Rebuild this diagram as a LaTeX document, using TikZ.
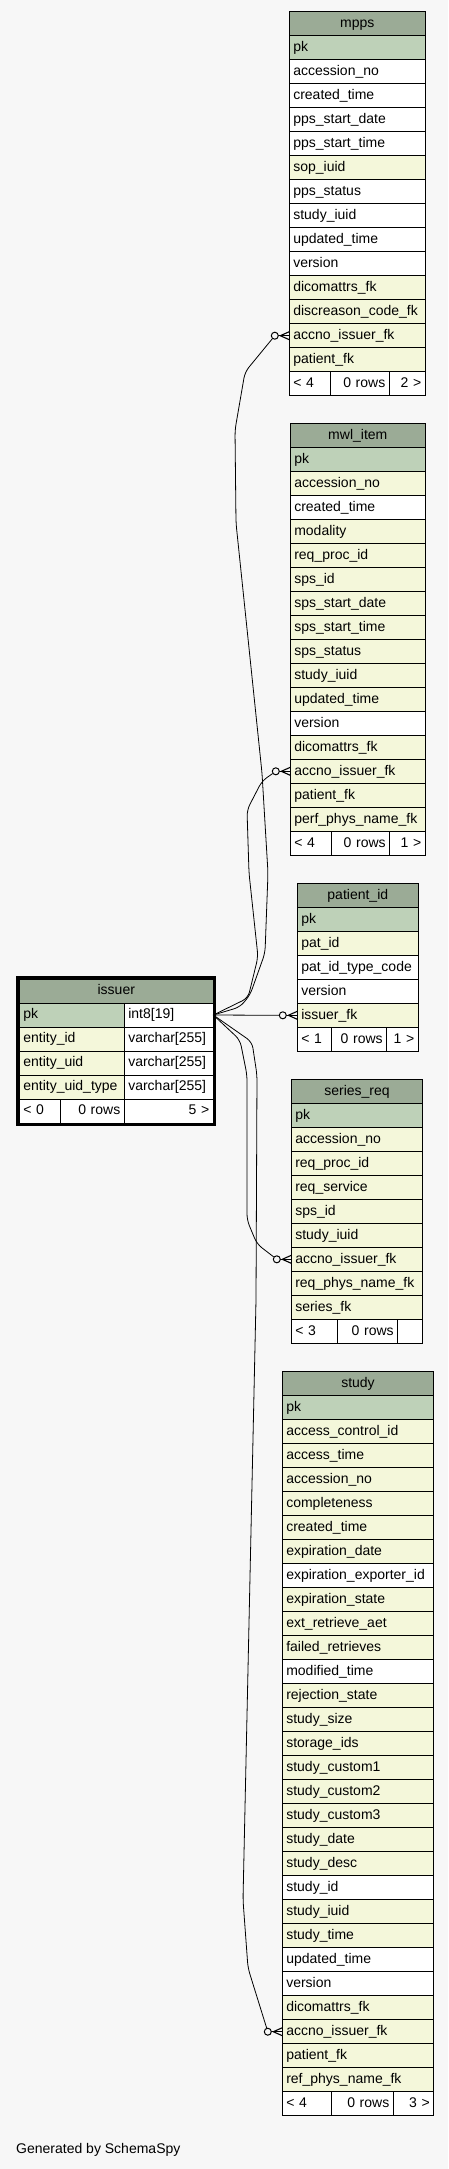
\documentclass[tikz,border=0pt]{standalone}
\usepackage{fontspec}
\setmainfont{Liberation Sans}
\usetikzlibrary{positioning}
\usetikzlibrary{fit}
\definecolor{bgcol}{HTML}{F7F7F7}
\definecolor{headcol}{HTML}{9BAB96}
\definecolor{pkcol}{HTML}{BED1B8}
\definecolor{idxcol}{HTML}{F4F7DA}
\newcommand{\tabfont}{\fontsize{14}{17}\selectfont}
\tikzstyle{cell}=[draw=black,line width=1pt,inner xsep=4pt,inner ysep=0pt,outer sep=0pt,
                  minimum height=24pt,text height=10.5pt,text depth=3pt,font=\tabfont]
\tikzstyle{row}=[cell,text width=#1,align=left]
\tikzstyle{head}=[cell,fill=headcol,text width=#1,align=center]
\tikzstyle{foot}=[cell,fill=white,text width=#1,align=left]
\tikzstyle{footr}=[cell,fill=white,text width=#1,align=right]
\tikzstyle{selframe}=[draw=black,line width=3pt,inner sep=1.5pt]
\tikzstyle{fkring}=[circle,draw=black,fill=bgcol,line width=1pt,minimum size=7pt,inner sep=0pt]
\tikzstyle{fkline}=[black,line width=0.8pt,line cap=round,rounded corners=6pt]

\begin{document}
\catcode`\_=12
\begin{tikzpicture}[x=1pt,y=-1pt]
  \fill[bgcol] (0,0) rectangle (448,2169);
  \useasboundingbox (0,0) rectangle (448,2169);

  % mpps
  \node[head=128pt, anchor=north west] (mpps-0) at (289.3,11.7) {mpps};
  \foreach \fld/\col [count=\i, remember=\i as \j (initially 0)] in
    {pk/pkcol, accession_no/white, created_time/white, pps_start_date/white,
     pps_start_time/white, sop_iuid/idxcol, pps_status/white, study_iuid/white,
     updated_time/white, version/white, dicomattrs_fk/idxcol,
     discreason_code_fk/idxcol, accno_issuer_fk/idxcol, patient_fk/idxcol}
    \node[row=128pt, fill=\col, below=0pt of mpps-\j] (mpps-\i) {\fld};
  \node[foot=33.4pt, anchor=north west] (mpps-f1) at (mpps-14.south west) {< 4};
  \node[footr=50.6pt, right=0pt of mpps-f1] (mpps-f2) {0 rows};
  \node[footr=28pt, right=0pt of mpps-f2] (mpps-f3) {2 >};

  % mwl_item
  \node[head=127pt, anchor=north west] (mwl-0) at (290.3,423.3) {mwl_item};
  \foreach \fld/\col [count=\i, remember=\i as \j (initially 0)] in
    {pk/pkcol, accession_no/idxcol, created_time/white, modality/idxcol,
     req_proc_id/idxcol, sps_id/idxcol, sps_start_date/idxcol, sps_start_time/idxcol,
     sps_status/idxcol, study_iuid/idxcol, updated_time/idxcol, version/white,
     dicomattrs_fk/idxcol, accno_issuer_fk/idxcol, patient_fk/idxcol,
     perf_phys_name_fk/idxcol}
    \node[row=127pt, fill=\col, below=0pt of mwl-\j] (mwl-\i) {\fld};
  \node[foot=33pt, anchor=north west] (mwl-f1) at (mwl-16.south west) {< 4};
  \node[footr=50.4pt, right=0pt of mwl-f1] (mwl-f2) {0 rows};
  \node[footr=27.6pt, right=0pt of mwl-f2] (mwl-f3) {1 >};

  % patient_id
  \node[head=113pt, anchor=north west] (pat-0) at (297.3,883.3) {patient_id};
  \foreach \fld/\col [count=\i, remember=\i as \j (initially 0)] in
    {pk/pkcol, pat_id/idxcol, pat_id_type_code/white, version/white, issuer_fk/idxcol}
    \node[row=113pt, fill=\col, below=0pt of pat-\j] (pat-\i) {\fld};
  \node[foot=26.4pt, anchor=north west] (pat-f1) at (pat-5.south west) {< 1};
  \node[footr=47pt, right=0pt of pat-f1] (pat-f2) {0 rows};
  \node[footr=23.6pt, right=0pt of pat-f2] (pat-f3) {1 >};

  % issuer
  \node[head=186pt, anchor=north west] (issuer-0) at (19.3,979) {issuer};
  \foreach \fld/\typ/\col [count=\i, remember=\i as \j (initially 0)] in
    {pk/int8[19]/pkcol, entity_id/varchar[255]/idxcol,
     entity_uid/varchar[255]/idxcol, entity_uid_type/varchar[255]/idxcol}
  {
    \node[row=97pt, fill=\col, anchor=north west] (issuer-\i) at (issuer-\j.south west) {\fld};
    \node[row=81pt, fill=white, anchor=north west] (issuer-\i-t) at (issuer-\i.north east) {\typ};
  }
  \node[foot=33pt, anchor=north west] (issuer-f1) at (issuer-4.south west) {< 0};
  \node[footr=56pt, right=0pt of issuer-f1] (issuer-f2) {0 rows};
  \node[footr=81pt, right=0pt of issuer-f2] (issuer-f3) {5 >};
  \node[selframe, fit=(issuer-0)(issuer-f3)] (issuer) {};

  % series_req
  \node[head=123.4pt, anchor=north west] (sreq-0) at (291.3,1079.3) {series_req};
  \foreach \fld/\col [count=\i, remember=\i as \j (initially 0)] in
    {pk/pkcol, accession_no/idxcol, req_proc_id/idxcol, req_service/idxcol,
     sps_id/idxcol, study_iuid/idxcol, accno_issuer_fk/idxcol,
     req_phys_name_fk/idxcol, series_fk/idxcol}
    \node[row=123.4pt, fill=\col, below=0pt of sreq-\j] (sreq-\i) {\fld};
  \node[foot=38.4pt, anchor=north west] (sreq-f1) at (sreq-9.south west) {< 3};
  \node[footr=52pt, right=0pt of sreq-f1] (sreq-f2) {0 rows};
  \node[footr=17pt, right=0pt of sreq-f2] (sreq-f3) {};

  % study
  \node[head=143.4pt, anchor=north west] (study-0) at (282.3,1371.7) {study};
  \foreach \fld/\col [count=\i, remember=\i as \j (initially 0)] in
    {pk/pkcol, access_control_id/idxcol, access_time/idxcol, accession_no/idxcol,
     completeness/idxcol, created_time/idxcol, expiration_date/idxcol,
     expiration_exporter_id/white, expiration_state/idxcol, ext_retrieve_aet/idxcol,
     failed_retrieves/idxcol, modified_time/white, rejection_state/idxcol,
     study_size/idxcol, storage_ids/idxcol, study_custom1/idxcol,
     study_custom2/idxcol, study_custom3/idxcol, study_date/idxcol,
     study_desc/idxcol, study_id/white, study_iuid/idxcol, study_time/idxcol,
     updated_time/white, version/white, dicomattrs_fk/idxcol,
     accno_issuer_fk/idxcol, patient_fk/idxcol, ref_phys_name_fk/idxcol}
    \node[row=143.4pt, fill=\col, below=0pt of study-\j] (study-\i) {\fld};
  \node[foot=41pt, anchor=north west] (study-f1) at (study-29.south west) {< 4};
  \node[footr=54pt, right=0pt of study-f1] (study-f2) {0 rows};
  \node[footr=32.4pt, right=0pt of study-f2] (study-f3) {3 >};

  % fk ends
  \foreach \tgt in {mpps-13, mwl-14, pat-5, sreq-7, study-27} {
    \node[fkring, left=10.5pt of \tgt.west] (\tgt-o) {};
    \draw[fkline] (\tgt-o) -- (\tgt.west);
    \draw[fkline, line width=1.1pt] (\tgt.west) ++(-9,0) -- ++(9,-4)
                                    (\tgt.west) ++(-9,0) -- ++(9,4);
  }

  % issuer.pk -> fk columns
  \draw[fkline] (issuer-1-t.east) -- (240,1007) -- (250,995) -- (265,953) -- (268,873)
    -- (262,773) -- (236,523) -- (235,430) -- (245,372) -- (mpps-13-o);
  \draw[fkline] (issuer-1-t.east) -- (248,998) -- (258,957) -- (249,873) -- (247,810)
    -- (262,781) -- (mwl-14-o);
  \draw[fkline] (issuer-1-t.east) -- (pat-5-o);
  \draw[fkline] (issuer-1-t.east) -- (240,1040) -- (247,1075) -- (247,1220) -- (257,1244)
    -- (sreq-7-o);
  \draw[fkline] (issuer-1-t.east) -- (252,1042) -- (257,1075) -- (256,1300) -- (243,1900)
    -- (248,1968) -- (study-27-o);

  \node[anchor=base west, inner sep=0pt, font=\tabfont] (credit) at (16,2153) {Generated by SchemaSpy};
\end{tikzpicture}
\end{document}
